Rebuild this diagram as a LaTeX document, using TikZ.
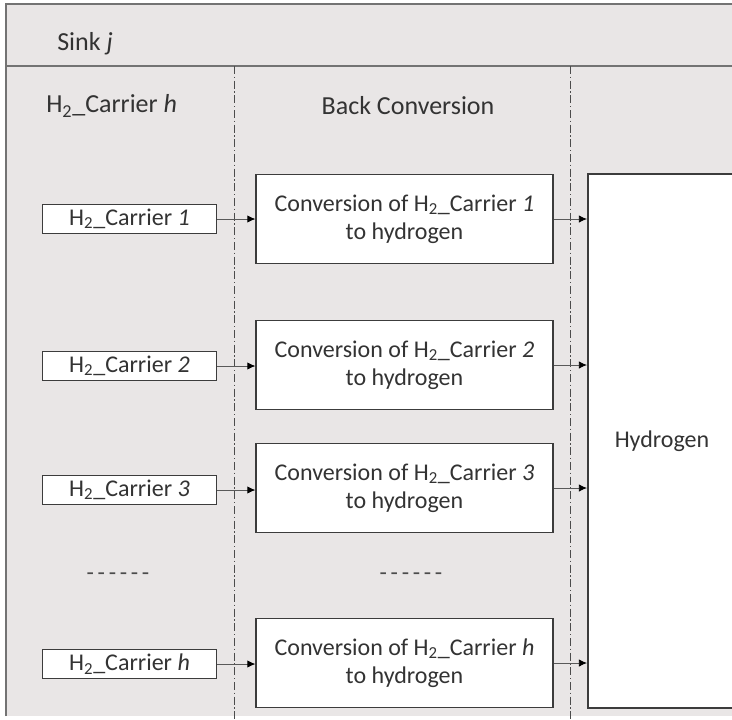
\documentclass[tikz,border=0pt]{standalone}
\usepackage{fontspec}
\setmainfont{Carlito}
\usetikzlibrary{arrows.meta}
\definecolor{bg}{HTML}{E9E6E6}
\definecolor{edge}{HTML}{3C3C3C}
\tikzset{
  px/.style={x=0.75pt,y=-0.75pt},
  carrier/.style={draw=edge,line width=1.2pt,fill=white,minimum width=130.5pt,minimum height=22pt,inner sep=0pt,font=\fontsize{18}{20}\selectfont,text=black!80},
  conv/.style={draw=edge,line width=1.2pt,fill=white,minimum width=222.5pt,minimum height=67pt,inner sep=0pt,align=center,font=\fontsize{18}{21}\selectfont,text=black!80},
  head/.style={font=\fontsize{19.5}{22}\selectfont,text=black!80,inner sep=0pt},
  flow/.style={draw=black!65,line width=0.6pt,-{Latex[length=6pt,width=5.5pt,black]}},
  sep/.style={draw=black!70,line width=0.7pt,dash pattern=on 6pt off 2pt on 1pt off 2pt},
  dots/.style={text=black!70,font=\fontsize{18}{20}\selectfont,inner sep=0pt},
}
\newcommand{\Hc}{H\textsubscript{2}\_Carrier}
\newcommand{\dashrow}{-\kern2.8pt-\kern2.8pt-\kern2.8pt-\kern2.8pt-\kern2.8pt-}
\begin{document}
\begin{tikzpicture}[px]
\useasboundingbox (0,0) rectangle (732,719);
\fill[white] (0,0) rectangle (732,719);
\fill[bg] (6,4) rectangle (732,716);
\draw[black!55,line width=1pt] (6,716) -- (6,4) -- (732,4);
\draw[black!55,line width=1.6pt] (6,66) -- (732,66);
\draw[sep] (234,66) -- (234,719);
\draw[sep] (570,66) -- (570,719);

\node[head,anchor=west] (sink) at (57,44) {Sink \textit{j}};
\node[head,anchor=west] (hch) at (46,106) {\Hc{} \textit{h}};
\node[head] (bc) at (408,106) {Back Conversion};

\node[draw=edge,line width=1.6pt,fill=white,minimum width=111pt,minimum height=401pt,inner sep=0pt,font=\fontsize{18}{20}\selectfont,text=black!80] (hyd) at (662,441) {Hydrogen};

\node[carrier] (c1) at (129.5,219) {\Hc{} \textit{1}};
\node[carrier] (c2) at (129.5,366) {\Hc{} \textit{2}};
\node[carrier] (c3) at (129.5,490) {\Hc{} \textit{3}};
\node[carrier] (ch) at (129.5,664) {\Hc{} \textit{h}};

\node[conv] (v1) at (404.5,219) {Conversion of \Hc{} \textit{1}\\to hydrogen};
\node[conv] (v2) at (404.5,365) {Conversion of \Hc{} \textit{2}\\to hydrogen};
\node[conv] (v3) at (404.5,488) {Conversion of \Hc{} \textit{3}\\to hydrogen};
\node[conv] (vh) at (404.5,663) {Conversion of \Hc{} \textit{h}\\to hydrogen};

\node[dots] (d1) at (118,577) {\dashrow};
\node[dots] (d2) at (411,577) {\dashrow};

\foreach \a/\b in {c1/v1,c2/v2,c3/v3,ch/vh}{
  \draw[flow] (\a.east) -- (\a.east -| \b.west);
}
\foreach \b in {v1,v2,v3,vh}{
  \draw[flow] (\b.east) -- (\b.east -| hyd.west);
}
\end{tikzpicture}
\end{document}
